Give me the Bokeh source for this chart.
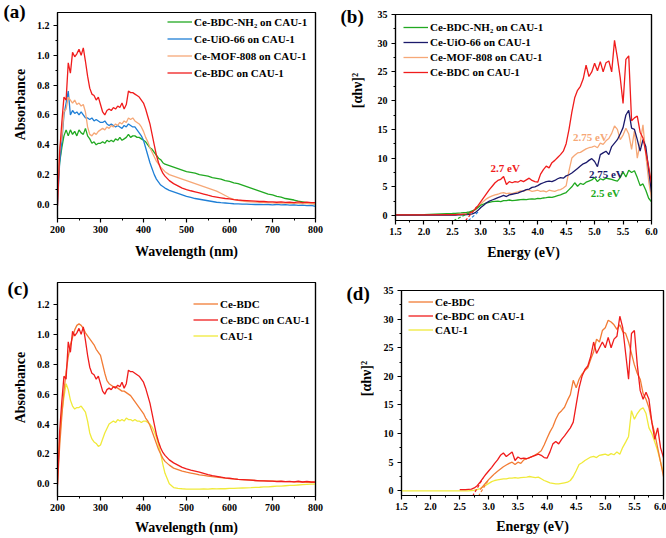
import math
from bokeh.plotting import figure
from bokeh.models import (FixedTicker, PrintfTickFormatter, Legend, LegendItem, Label,
                          Range1d, LinearAxis)
from bokeh.layouts import row, column
from bokeh.embed import file_html
from bokeh.resources import INLINE

nan = float("nan")
FONT = "Liberation Serif"

# ---------------- UV-vis data (panels a, c) ----------------
wavelength = [200, 205, 210, 215, 220, 225, 230, 235, 240, 245,
              250, 255, 260, 265, 270, 275, 280, 285, 290, 295,
              300, 305, 310, 315, 320, 325, 330, 335, 340, 345,
              350, 355, 360, 365, 370, 375, 380, 385, 390, 395,
              400, 405, 410, 415, 420, 425, 430, 435, 440, 445,
              450, 460, 470, 480, 490, 500, 510, 520, 530, 540,
              550, 560, 570, 580, 590, 600, 610, 620, 630, 640,
              650, 660, 670, 680, 690, 700, 710, 720, 730, 740,
              750, 760, 770, 780, 790, 800]

abs_cebdc_cau1 = [-0.01, 0.35, 0.55, 0.72, 0.70, 0.95, 0.88, 1.02, 0.99, 1.01,
                  1.04, 1.00, 1.05, 0.96, 0.86, 0.78, 0.74, 0.73, 0.70, 0.72,
                  0.67, 0.62, 0.60, 0.63, 0.64, 0.63, 0.65, 0.64, 0.66, 0.65,
                  0.68, 0.64, 0.67, 0.76, 0.75, 0.75, 0.74, 0.73, 0.72, 0.70,
                  0.68, 0.64, 0.59, 0.54, 0.47, 0.40, 0.33, 0.28, 0.24, 0.21,
                  0.19, 0.16, 0.14, 0.125, 0.11, 0.10, 0.092, 0.085, 0.078, 0.07,
                  0.062, 0.055, 0.05, 0.045, 0.04, 0.037, 0.033, 0.03, 0.028, 0.026,
                  0.024, 0.022, 0.02, 0.02, 0.018, 0.018, 0.015, 0.017, 0.014, 0.016,
                  0.013, 0.018, 0.012, 0.016, 0.012, 0.012]

abs_nh2_cau1 = [0.12, 0.28, 0.38, 0.46, 0.50, 0.46, 0.50, 0.47, 0.49, 0.46,
                0.50, 0.48, 0.47, 0.51, 0.46, 0.44, 0.41, 0.42, 0.40, 0.41,
                0.41, 0.42, 0.41, 0.43, 0.42, 0.43, 0.42, 0.44, 0.43, 0.45,
                0.43, 0.44, 0.45, 0.47, 0.45, 0.46, 0.46, 0.45, 0.45, 0.44,
                0.43, 0.42, 0.40, 0.38, 0.37, 0.35, 0.33, 0.31, 0.30, 0.28,
                0.27, 0.26, 0.25, 0.24, 0.23, 0.22, 0.215, 0.21, 0.20, 0.195,
                0.19, 0.18, 0.175, 0.17, 0.16, 0.155, 0.145, 0.14, 0.13, 0.12,
                0.11, 0.10, 0.09, 0.08, 0.07, 0.065, 0.055, 0.05, 0.04, 0.035,
                0.03, 0.022, 0.018, 0.012, 0.008, 0.005]

abs_uio66_cau1 = [0.0, 0.28, 0.42, 0.60, 0.68, 0.76, 0.60, 0.63, 0.61, 0.62,
                  0.60, 0.62, 0.60, 0.58, 0.58, 0.57, 0.58, 0.56, 0.57, 0.56,
                  0.55, 0.55, 0.56, 0.54, 0.53, 0.54, 0.53, 0.52, 0.53, 0.52,
                  0.51, 0.53, 0.52, 0.54, 0.53, 0.52, 0.52, 0.50, 0.48, 0.46,
                  0.43, 0.38, 0.33, 0.28, 0.24, 0.20, 0.17, 0.15, 0.13, 0.12,
                  0.11, 0.095, 0.085, 0.075, 0.065, 0.055, 0.048, 0.04, 0.035, 0.03,
                  0.025, 0.02, 0.015, 0.012, 0.01, 0.008, 0.005, 0.004, 0.003, 0.002,
                  0.001, 0.0, 0.001, -0.001, 0.0, -0.002, 0.0, -0.003, -0.001, -0.004,
                  -0.003, -0.006, -0.004, -0.008, -0.006, -0.012]

abs_mof808_cau1 = [0.02, 0.38, 0.45, 0.62, 0.64, 0.72, 0.70, 0.68, 0.70, 0.67,
                   0.68, 0.66, 0.67, 0.62, 0.52, 0.47, 0.46, 0.48, 0.47, 0.49,
                   0.50, 0.51, 0.50, 0.52, 0.51, 0.53, 0.52, 0.54, 0.53, 0.55,
                   0.54, 0.56, 0.55, 0.58, 0.57, 0.58, 0.56, 0.55, 0.54, 0.52,
                   0.49, 0.45, 0.42, 0.38, 0.35, 0.32, 0.29, 0.27, 0.25, 0.235,
                   0.22, 0.20, 0.19, 0.18, 0.17, 0.16, 0.15, 0.14, 0.13, 0.12,
                   0.11, 0.10, 0.09, 0.075, 0.06, 0.045, 0.035, 0.028, 0.022, 0.02,
                   0.018, 0.016, 0.014, 0.013, 0.012, 0.011, 0.01, 0.01, 0.009, 0.008,
                   0.008, 0.007, 0.006, 0.006, 0.005, 0.005]

abs_cebdc = [0.0, 0.25, 0.45, 0.62, 0.75, 0.85, 0.93, 0.98, 1.03, 1.06,
             1.07, 1.06, 1.04, 1.01, 0.99, 0.97, 0.95, 0.93, 0.90, 0.88,
             0.86, 0.80, 0.74, 0.69, 0.67, 0.66, 0.65, 0.65, 0.64, 0.63,
             0.62, 0.62, 0.61, 0.60, 0.59, 0.57, 0.55, 0.53, 0.51, 0.49,
             0.47, 0.44, 0.42, 0.39, 0.35, 0.31, 0.27, 0.23, 0.20, 0.17,
             0.15, 0.125, 0.105, 0.095, 0.085, 0.078, 0.072, 0.066, 0.06, 0.056,
             0.052, 0.048, 0.045, 0.042, 0.038, 0.035, 0.033, 0.03, 0.028, 0.026,
             0.024, 0.022, 0.021, 0.02, 0.019, 0.018, 0.017, 0.016, 0.015, 0.014,
             0.013, 0.012, 0.011, 0.01, 0.01, 0.01]

abs_cau1 = [0.10, 0.30, 0.48, 0.58, 0.67, 0.63, 0.56, 0.52, 0.50, 0.51,
            0.51, 0.52, 0.50, 0.48, 0.42, 0.34, 0.30, 0.28, 0.27, 0.25,
            0.26, 0.30, 0.34, 0.37, 0.40, 0.41, 0.42, 0.41, 0.43, 0.42,
            0.43, 0.42, 0.44, 0.43, 0.43, 0.42, 0.43, 0.42, 0.42, 0.41,
            0.42, 0.42, 0.41, 0.40, 0.38, 0.35, 0.31, 0.26, 0.20, 0.13,
            0.07, 0.0, -0.025, -0.03, -0.033, -0.035, -0.036, -0.035, -0.036, -0.034,
            -0.035, -0.033, -0.034, -0.032, -0.033, -0.03, -0.031, -0.029, -0.028, -0.027,
            -0.026, -0.024, -0.023, -0.021, -0.02, -0.018, -0.016, -0.015, -0.013, -0.011,
            -0.01, -0.008, -0.006, -0.004, -0.002, -0.002]

# ---------------- Tauc data (panels b, d) ----------------
energy = [1.5, 2.0, 2.5, 2.55, 2.6, 2.65, 2.7, 2.75, 2.8, 2.85,
          2.9, 2.95, 3.0, 3.05, 3.1, 3.15, 3.2, 3.25, 3.3, 3.35,
          3.4, 3.45, 3.5, 3.55, 3.6, 3.65, 3.7, 3.75, 3.8, 3.85,
          3.9, 3.95, 4.0, 4.05, 4.1, 4.15, 4.2, 4.25, 4.3, 4.35,
          4.4, 4.45, 4.5, 4.55, 4.6, 4.65, 4.7, 4.75, 4.8, 4.85,
          4.9, 4.95, 5.0, 5.05, 5.1, 5.15, 5.2, 5.25, 5.3, 5.35,
          5.4, 5.45, 5.5, 5.55, 5.6, 5.65, 5.7, 5.75, 5.8, 5.85,
          5.9, 5.95, 6.0]

tauc_b_red = [0.1, 0.1, 0.15, 0.15, 0.2, 0.2, 0.25, 0.3, 0.45, 0.7,
              1.1, 1.7, 2.4, 3.1, 3.8, 4.5, 5.1, 5.7, 6.1, 6.3,
              6.8, 5.4, 5.9, 5.7, 5.9, 5.8, 6.1, 5.9, 6.2, 6.5,
              6.1, 5.9, 5.8, 7.2, 8.0, 8.6, 8.3, 9.2, 9.6, 10.1,
              10.6, 11.2, 12.5, 15.0, 18.0, 20.5, 21.8, 22.5, 23.8, 26.2,
              24.2, 25.0, 26.5, 25.2, 26.8, 25.0, 26.6, 26.9, 25.0, 30.5,
              27.5, 24.0, 19.5, 27.2, 27.8, 16.5, 17.0, 17.3, 14.5, 13.5,
              11.0, 8.5, 5.5]

tauc_b_navy = [0.05, 0.05, 0.08, 0.08, 0.1, 0.1, 0.12, 0.15, 0.2, 0.3,
               0.5, 0.9, 1.4, 1.8, 2.2, 2.5, 2.7, 2.9, 3.1, 3.3,
               3.5, 3.3, 3.6, 3.7, 3.8, 3.9, 4.1, 4.3, 4.5, 4.6,
               4.9, 5.0, 5.2, 5.5, 5.7, 5.9, 6.0, 5.9, 6.1, 6.4,
               6.6, 6.5, 6.9, 7.1, 7.4, 7.8, 8.2, 8.6, 9.0, 9.2,
               9.6, 9.9, 9.4, 8.5, 10.6, 10.9, 11.2, 10.6, 12.0, 12.6,
               13.2, 14.2, 15.3, 17.5, 18.3, 15.2, 15.0, 13.2, 11.2, 13.2,
               12.0, 8.0, 4.0]

tauc_b_mof = [0.1, 0.1, 0.12, 0.12, 0.15, 0.15, 0.2, 0.25, 0.35, 0.6,
              1.0, 1.5, 2.0, 2.5, 2.9, 3.2, 3.4, 3.6, 3.7, 3.9,
              4.0, 3.8, 3.9, 3.8, 4.0, 4.1, 4.3, 4.2, 4.5, 4.4,
              4.2, 4.3, 4.4, 4.2, 4.3, 4.1, 4.4, 4.3, 4.2, 4.4,
              4.5, 4.8, 5.2, 7.8, 10.0, 10.5, 10.9, 11.0, 11.3, 11.6,
              11.8, 11.9, 12.1, 11.8, 12.6, 12.4, 13.0, 13.4, 14.3, 15.6,
              15.0, 13.2, 14.0, 15.2, 14.2, 11.5, 14.8, 10.0, 12.5, 15.8,
              10.5, 6.0, 3.0]

tauc_b_green = [0.1, 0.15, 0.35, 0.38, 0.42, 0.45, 0.5, 0.55, 0.65, 0.8,
                1.0, 1.4, 1.8, 2.0, 2.2, 2.3, 2.4, 2.45, 2.5, 2.4,
                2.6, 2.6, 2.7, 2.6, 2.65, 2.7, 2.75, 2.8, 2.75, 2.85,
                2.9, 2.85, 3.0, 2.95, 3.05, 3.1, 3.2, 3.15, 3.3, 3.45,
                3.6, 3.8, 4.0, 4.5, 5.0, 5.7, 5.1, 5.6, 5.4, 5.8,
                6.0, 6.2, 6.6, 5.9, 6.4, 6.2, 6.5, 6.4, 6.3, 6.1,
                6.0, 6.6, 7.6, 6.7, 7.9, 7.5, 7.8, 6.6, 5.2, 5.5,
                4.4, 3.0, 2.4]

tauc_d_cebdc = [nan, nan, nan, nan, nan, nan, nan, nan, nan, 0.2,
                0.8, 1.4, 2.0, 2.5, 3.0, 3.4, 3.8, 4.2, 4.5, 4.8,
                5.0, 4.6, 5.0, 4.8, 5.4, 5.6, 5.8, 6.0, 6.3, 6.6,
                7.0, 8.0, 9.2, 10.3, 11.2, 12.5, 13.5, 14.0, 14.6, 15.8,
                16.8, 19.3, 18.0, 19.5, 20.4, 21.0, 21.5, 23.0, 24.3, 26.5,
                26.0, 28.0, 28.5, 29.8, 29.5, 29.0, 28.2, 29.0, 27.8, 27.5,
                26.0, 24.0, 22.0, 20.5, 19.5, 17.0, 16.0, 14.5, 12.0, 10.0,
                7.5, 5.0, 2.5]

tauc_d_red = [nan, nan, 0.2, 0.2, 0.2, 0.25, 0.3, 0.5, 0.9, 1.5,
              2.2, 2.9, 3.5, 4.1, 4.8, 5.4, 6.2, 6.6, 6.0, 6.4,
              6.8, 5.3, 5.9, 5.6, 5.7, 5.6, 5.8, 6.0, 6.2, 6.4,
              6.2, 5.8, 5.7, 6.8, 8.2, 8.6, 8.2, 9.0, 9.6, 10.3,
              11.0, 12.0, 15.0, 18.0, 20.0, 21.2, 21.8, 23.5, 26.0, 24.0,
              25.0, 26.0, 25.0, 26.8, 25.0, 26.5, 27.0, 30.5, 28.5, 24.0,
              19.5, 27.5, 28.0, 22.0, 17.5, 16.0, 17.2, 16.0, 12.0, 9.0,
              11.0, 7.5, 5.8]

tauc_d_cau1 = [0.0, 0.0, 0.0, 0.0, 0.0, 0.0, 0.05, 0.1, 0.2, 0.4,
               0.7, 1.0, 1.3, 1.6, 1.8, 1.9, 2.0, 2.1, 2.1, 2.2,
               2.2, 2.3, 2.2, 2.3, 2.35, 2.4, 2.5, 2.4, 2.3, 2.4,
               2.1, 1.8, 1.6, 1.4, 1.3, 1.2, 1.2, 1.3, 1.4, 1.5,
               1.8, 2.5, 3.5, 4.6, 4.9, 5.3, 5.6, 5.9, 6.0, 5.8,
               6.2, 6.3, 6.4, 6.2, 6.5, 6.3, 6.8, 6.4, 7.6, 8.5,
               9.5, 14.0, 12.5, 13.5, 14.2, 14.5, 13.5, 11.0, 10.0, 8.5,
               7.0, 5.0, 3.0]

# tangent (extrapolation) segments: x pair, y pair
tan_b_green = ([2.52, 2.88], [-0.9, 0.9])
tan_b_red = ([2.73, 2.95], [-0.9, 1.8])
tan_b_navy = ([2.78, 2.95], [-0.9, 0.6])
tan_d_orange = ([2.82, 3.0], [-0.95, 2.0])
tan_d_red = ([2.72, 2.9], [-0.95, 2.2])

# band gap annotations (text, x, y)
gap_labels = [("2.7 eV", 3.17, 8.2), ("2.75 eV", 4.62, 13.6),
              ("2.75 eV", 4.9, 7.3), ("2.5 eV", 4.93, 4.0)]

# ticks
wl_ticks = [200, 300, 400, 500, 600, 700, 800]
wl_minor = [250, 350, 450, 550, 650, 750]
abs_ticks = [0.0, 0.2, 0.4, 0.6, 0.8, 1.0, 1.2]
abs_minor = [0.1, 0.3, 0.5, 0.7, 0.9, 1.1]
e_ticks = [1.5, 2.0, 2.5, 3.0, 3.5, 4.0, 4.5, 5.0, 5.5, 6.0]
e_minor = [1.75, 2.25, 2.75, 3.25, 3.75, 4.25, 4.75, 5.25, 5.75]
t_ticks = [0, 5, 10, 15, 20, 25, 30, 35]
t_minor = [2.5, 7.5, 12.5, 17.5, 22.5, 27.5, 32.5]

GREEN = "#21a921"
BLUE = "#1f7fd6"
NAVY = "#1b1a6b"
MOF = "#f6a877"
RED = "#f01c1c"
CEBDC = "#f27c35"
YELLOW = "#f0ea3a"
LW = 1.3


def frame_axis(ticks, bounds):
    return LinearAxis(ticker=FixedTicker(ticks=ticks, minor_ticks=[]), bounds=bounds,
                      major_label_overrides={ticks[0]: ""},
                      axis_line_width=1.2, axis_line_color="black",
                      major_tick_out=0, major_tick_in=0, minor_tick_out=0, minor_tick_in=0,
                      major_label_standoff=0, major_label_text_font_size="1px",
                      major_label_text_alpha=0)


def base_fig(w, h, xr, yr, bl, br, bt, bb, xt, xm, yt, ym, xfmt, yfmt, xlabel,
             x_std=3, x_lstd=7):
    p = figure(width=w, height=h, x_range=Range1d(*xr), y_range=Range1d(*yr),
               output_backend="svg", toolbar_location=None,
               min_border_left=bl, min_border_right=br,
               min_border_top=bt, min_border_bottom=bb)
    p.xgrid.visible = False
    p.ygrid.visible = False
    p.outline_line_color = "black"
    p.outline_line_width = 1.2
    p.background_fill_color = "white"
    p.border_fill_color = "white"
    p.xaxis.ticker = FixedTicker(ticks=xt, minor_ticks=xm)
    p.yaxis.ticker = FixedTicker(ticks=yt, minor_ticks=ym)
    p.xaxis.formatter = PrintfTickFormatter(format=xfmt)
    p.yaxis.formatter = PrintfTickFormatter(format=yfmt)
    p.xaxis.bounds = tuple(xr)
    p.yaxis.bounds = tuple(yr)
    p.xaxis.axis_label = xlabel
    for ax in (p.xaxis[0], p.yaxis[0]):
        ax.axis_line_width = 1.2
        ax.axis_line_color = "black"
        ax.major_tick_line_width = 1.2
        ax.minor_tick_line_width = 1
        ax.major_tick_out = 4
        ax.major_tick_in = 0
        ax.minor_tick_out = 2
        ax.minor_tick_in = 0
        ax.major_label_text_font = FONT
        ax.major_label_text_font_size = "10px"
        ax.major_label_text_font_style = "bold"
        ax.major_label_text_color = "black"
        ax.axis_label_text_font = FONT
        ax.axis_label_text_font_size = "14px"
        ax.axis_label_text_font_style = "bold"
        ax.axis_label_text_color = "black"
    p.xaxis.major_label_standoff = x_std
    p.xaxis.axis_label_standoff = x_lstd
    p.yaxis.major_label_standoff = 4
    p.add_layout(frame_axis([xr[0]], tuple(xr)), "above")
    p.add_layout(frame_axis([yr[0]], tuple(yr)), "right")
    return p


def side_fig(w, h, panel, panel_xy, ylabel, ylabel_xy):
    s = figure(width=w, height=h, x_range=Range1d(0, w), y_range=Range1d(0, h),
               x_axis_location=None, y_axis_location=None,
               output_backend="svg", toolbar_location=None,
               min_border_left=0, min_border_right=0, min_border_top=0, min_border_bottom=0)
    for g in s.grid:
        g.visible = False
    s.outline_line_color = None
    s.background_fill_color = "white"
    s.border_fill_color = "white"
    s.add_layout(Label(x=panel_xy[0], y=h - panel_xy[1], text=panel, text_font=FONT,
                       text_font_size="19px", text_font_style="bold", text_color="black",
                       text_align="left", text_baseline="middle"))
    s.add_layout(Label(x=ylabel_xy[0], y=h - ylabel_xy[1], text=ylabel, text_font=FONT,
                       text_font_size="14px", text_font_style="bold", text_color="black",
                       text_align="center", text_baseline="middle", angle=math.pi / 2))
    return s


def add_legend(p, items, loc, lh, sp):
    lg = Legend(items=[LegendItem(label=t, renderers=[r]) for t, r in items],
                location=loc, glyph_width=25, glyph_height=lh, label_height=lh,
                label_standoff=2, spacing=sp, padding=0, margin=0,
                background_fill_alpha=0, border_line_alpha=0,
                label_text_font=FONT, label_text_font_size="11px",
                label_text_font_style="bold", label_text_color="black")
    p.add_layout(lg)


TAUC_LABEL = "[\u03b1h\u03bd]\u00b2"

# ---------- (a) ----------
sa = side_fig(33, 268, "(a)", (3, 10.5), "Absorbance", (20, 104))
pa = base_fig(305, 268, (200, 800), (-0.094, 1.287), 24, 23, 12, 50,
              wl_ticks, wl_minor, abs_ticks, abs_minor, "%d", "%.1f",
              "Wavelength (nm)", 3, 8)
ra1 = pa.line(wavelength, abs_nh2_cau1, line_color=GREEN, line_width=LW)
ra2 = pa.line(wavelength, abs_uio66_cau1, line_color=BLUE, line_width=LW)
ra3 = pa.line(wavelength, abs_mof808_cau1, line_color=MOF, line_width=LW)
ra4 = pa.line(wavelength, abs_cebdc_cau1, line_color=RED, line_width=LW)
add_legend(pa, [("Ce-BDC-NH\u2082 on CAU-1", ra1), ("Ce-UiO-66 on CAU-1", ra2),
                ("Ce-MOF-808 on CAU-1", ra3), ("Ce-BDC on CAU-1", ra4)],
           (110, 138), 15, 2)

# ---------- (b) ----------
sb = side_fig(36, 268, "(b)", (2, 15.5), TAUC_LABEL, (18.5, 90))
pb = base_fig(292, 268, (1.5, 6.0), (-0.87, 35.0), 19, 15, 14, 48,
              e_ticks, e_minor, t_ticks, t_minor, "%.1f", "%d",
              "Energy (eV)", 3, 7)
rb3 = pb.line(energy, tauc_b_mof, line_color=MOF, line_width=LW)
rb1 = pb.line(energy, tauc_b_green, line_color=GREEN, line_width=LW)
rb2 = pb.line(energy, tauc_b_navy, line_color=NAVY, line_width=LW)
rb4 = pb.line(energy, tauc_b_red, line_color=RED, line_width=LW)
pb.line(tan_b_green[0], tan_b_green[1], line_color=GREEN, line_width=1.2, line_dash="3 2")
pb.line(tan_b_red[0], tan_b_red[1], line_color=RED, line_width=1.2, line_dash="3 2")
pb.line(tan_b_navy[0], tan_b_navy[1], line_color=BLUE, line_width=1.2, line_dash="3 2")
add_legend(pb, [("Ce-BDC-NH\u2082 on CAU-1", rb1), ("Ce-UiO-66 on CAU-1", rb2),
                ("Ce-MOF-808 on CAU-1", rb3), ("Ce-BDC on CAU-1", rb4)],
           (8, 141), 14, 1)
for (txt, gx, gy), col in zip(gap_labels, [RED, MOF, NAVY, GREEN]):
    pb.add_layout(Label(x=gx, y=gy, text=txt, text_font=FONT, text_font_size="11px",
                        text_font_style="bold", text_color=col,
                        text_baseline="middle", text_align="left"))

# ---------- (c) ----------
sc = side_fig(33, 270, "(c)", (7, 20), "Absorbance", (20, 119))
pc = base_fig(305, 270, (200, 800), (-0.085, 1.347), 24, 23, 14, 42,
              wl_ticks, wl_minor, abs_ticks, abs_minor, "%d", "%.1f",
              "Wavelength (nm)", 3, 6)
rc3 = pc.line(wavelength, abs_cau1, line_color=YELLOW, line_width=LW)
rc1 = pc.line(wavelength, abs_cebdc, line_color=CEBDC, line_width=LW)
rc2 = pc.line(wavelength, abs_cebdc_cau1, line_color=RED, line_width=LW)
add_legend(pc, [("Ce-BDC", rc1), ("Ce-BDC on CAU-1", rc2), ("CAU-1", rc3)],
           (136, 153), 15, 1)

# ---------- (d) ----------
sd = side_fig(36, 270, "(d)", (8, 25), TAUC_LABEL, (28, 110))
pd_ = base_fig(292, 270, (1.5, 6.0), (-0.82, 35.0), 27, 3, 22, 43,
               e_ticks, e_minor, t_ticks, t_minor, "%.1f", "%d",
               "Energy (eV)", 3, 6)
rd3 = pd_.line(energy, tauc_d_cau1, line_color=YELLOW, line_width=LW)
rd1 = pd_.line(energy, tauc_d_cebdc, line_color=CEBDC, line_width=LW)
rd2 = pd_.line(energy, tauc_d_red, line_color=RED, line_width=LW)
pd_.line(tan_d_orange[0], tan_d_orange[1], line_color=CEBDC, line_width=1.2, line_dash="3 2")
pd_.line(tan_d_red[0], tan_d_red[1], line_color=RED, line_width=1.2, line_dash="3 2")
add_legend(pd_, [("Ce-BDC", rd1), ("Ce-BDC on CAU-1", rd2), ("CAU-1", rd3)],
           (7, 159), 13, 1)

layout = row(column(sa, sc, spacing=0),
             column(pa, pc, spacing=0),
             column(sb, sd, spacing=0),
             column(row(pb, spacing=0), row(pd_, spacing=0), spacing=0),
             spacing=0)

open("out.html", "w").write(file_html(layout, INLINE))
